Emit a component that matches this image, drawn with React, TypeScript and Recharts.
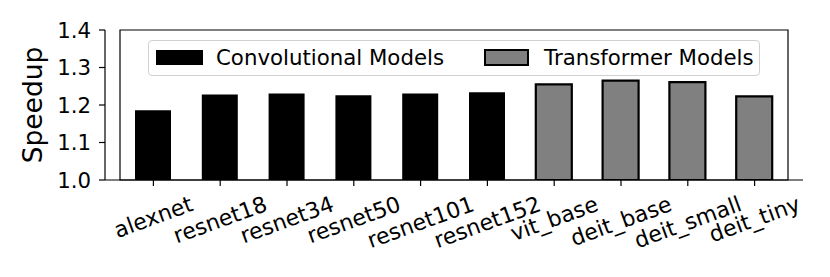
import React from "react"
import { BarChart, Bar, Cell, XAxis, YAxis, Legend, ReferenceArea, Label } from "recharts"

// model names along the x axis
const models = [
  "alexnet",
  "resnet18",
  "resnet34",
  "resnet50",
  "resnet101",
  "resnet152",
  "vit_base",
  "deit_base",
  "deit_small",
  "deit_tiny",
]

// speedup
const speedups = [1.186, 1.228, 1.231, 1.226, 1.231, 1.234, 1.255, 1.265, 1.261, 1.223]

// which family each model belongs to
const families = ["conv", "conv", "conv", "conv", "conv", "conv", "vit", "vit", "vit", "vit"]

const yTicks = [1.0, 1.1, 1.2, 1.3, 1.4]

const FONT = "DejaVu Sans"
const TICK_PX = 21.3
const XTICK_PX = 22

const data = models.map((name, i) => ({ name, speedup: speedups[i], family: families[i] }))

let canvas: HTMLCanvasElement | null = null
function textWidth(s: string, px: number) {
  if (!canvas) canvas = document.createElement("canvas")
  const ctx = canvas.getContext("2d")
  if (!ctx) return s.length * px * 0.6
  ctx.font = `${px}px "${FONT}"`
  return ctx.measureText(s).width
}

// matplotlib-like rotated label: bbox centred on the tick, top just under it
function RotatedTick(props: any) {
  const { x, y, payload } = props
  const label = String(payload.value)
  const a = (20 * Math.PI) / 180
  const w = textWidth(label, XTICK_PX)
  const h = XTICK_PX * 1.17
  const bboxH = w * Math.sin(a) + h * Math.cos(a)
  const cy = y + 3 + bboxH / 2
  return (
    <text
      x={x}
      y={cy}
      textAnchor="middle"
      dominantBaseline="central"
      transform={`rotate(-20, ${x}, ${cy})`}
      fontFamily={FONT}
      fontSize={XTICK_PX}
      fill="#000"
    >
      {label}
    </text>
  )
}

function LegendBox() {
  return (
    <div
      style={{
        position: "relative",
        width: 612,
        height: 36,
        boxSizing: "border-box",
        border: "1px solid #d0d0d0",
        borderRadius: 4,
        background: "rgba(255,255,255,0.8)",
        fontFamily: FONT,
        fontSize: TICK_PX,
        color: "#000",
      }}
    >
      <div style={{ position: "absolute", left: 7, top: 9, width: 47, height: 15, background: "#000" }} />
      <span style={{ position: "absolute", left: 67, top: 0, lineHeight: "34px", whiteSpace: "nowrap" }}>
        Convolutional Models
      </span>
      <div
        style={{
          position: "absolute",
          left: 335,
          top: 8,
          width: 45,
          height: 17,
          boxSizing: "border-box",
          background: "#808080",
          border: "2px solid #000",
        }}
      />
      <span style={{ position: "absolute", left: 395, top: 0, lineHeight: "34px", whiteSpace: "nowrap" }}>
        Transformer Models
      </span>
    </div>
  )
}

export default function App() {
  return (
    <div style={{ position: "absolute", left: 0, top: 0, width: 830, height: 277, background: "#fff" }}>
      <BarChart width={830} height={277} data={data} margin={{ top: 30, right: 27, bottom: 0, left: 0 }}>
        <XAxis
          dataKey="name"
          height={97}
          interval={0}
          padding={{ left: 15, right: 15 }}
          tickSize={6}
          tickMargin={2}
          tickLine={{ stroke: "#000", strokeWidth: 1.2 }}
          axisLine={{ stroke: "#000", strokeWidth: 1.2 }}
          tick={<RotatedTick />}
        />
        <YAxis
          width={105}
          domain={[1.0, 1.4]}
          ticks={yTicks}
          allowDataOverflow
          tickFormatter={(v: number) => v.toFixed(1)}
          tickSize={6}
          tickMargin={8}
          tickLine={{ stroke: "#000", strokeWidth: 1.2 }}
          axisLine={{ stroke: "#000", strokeWidth: 1.2 }}
          tick={{ fill: "#000", fontFamily: FONT, fontSize: TICK_PX }}
          label={
            <Label
              content={(p: any) => {
                const vb = p.viewBox || {}
                const cy = (vb.y ?? 30) + (vb.height ?? 150) / 2
                return (
                  <text
                    x={32}
                    y={cy}
                    textAnchor="middle"
                    dominantBaseline="central"
                    transform={`rotate(-90, 32, ${cy})`}
                    fontFamily={FONT}
                    fontSize={26.5}
                    fill="#000"
                  >
                    Speedup
                  </text>
                )
              }}
            />
          }
        />
        <ReferenceArea y1={1.0} y2={1.4} fill="none" fillOpacity={0} stroke="#000" strokeWidth={1.2} />
        <Bar dataKey="speedup" barSize={36} isAnimationActive={false}>
          {data.map((d, i) =>
            d.family === "conv" ? (
              <Cell key={`c-${i}`} fill="#000" stroke="none" />
            ) : (
              <Cell key={`c-${i}`} fill="#808080" stroke="#000" strokeWidth={2.2} />
            )
          )}
        </Bar>
        <Legend
          layout="horizontal"
          verticalAlign="middle"
          align="center"
          wrapperStyle={{ position: "absolute", left: 148, top: 40, width: 612, height: 36 }}
          content={() => <LegendBox />}
        />
      </BarChart>
    </div>
  )
}
